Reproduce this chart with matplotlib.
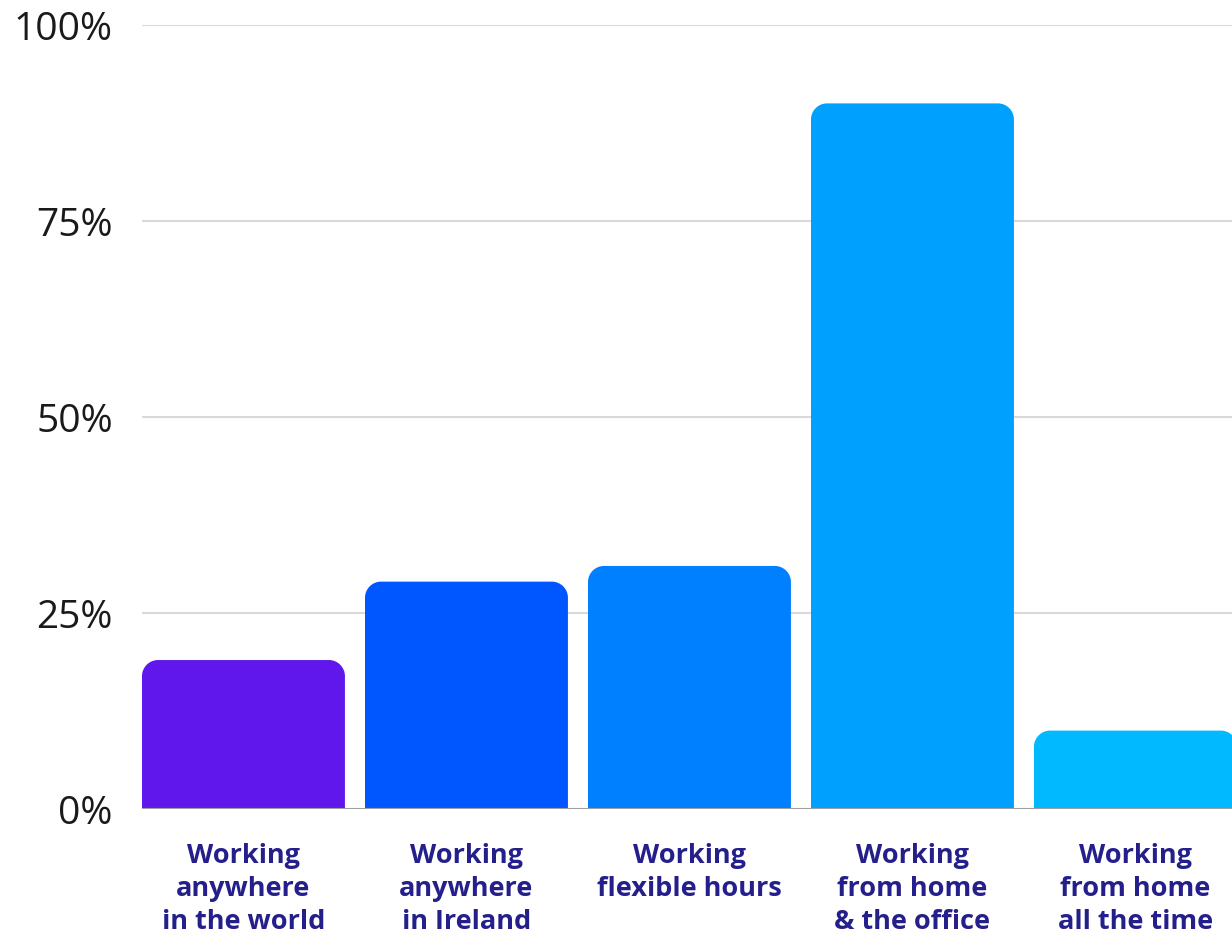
import matplotlib
matplotlib.use("Agg")
import matplotlib.pyplot as plt
from matplotlib.path import Path
from matplotlib.patches import PathPatch

categories = [
    "Working\nanywhere\nin the world",
    "Working\nanywhere\nin Ireland",
    "Working\nflexible hours",
    "Working\nfrom home\n& the office",
    "Working\nfrom home\nall the time",
]
values = [19, 29, 31, 90, 10]
colors = ["#5f17eb", "#0057ff", "#0080ff", "#00a0ff", "#00b9ff"]
yticks = [0, 25, 50, 75, 100]
ytick_labels = ["0%", "25%", "50%", "75%", "100%"]

W, H = 1232, 936
fig = plt.figure(figsize=(W / 100, H / 100), dpi=100)
ax_left, ax_bottom = 142 / W, 1 - 809 / H
ax_w, ax_h = 1 - ax_left, (809 - 25) / H
ax = fig.add_axes([ax_left, ax_bottom, ax_w, ax_h])

bar_w = 0.91
xmin, xmax = -bar_w / 2, -bar_w / 2 + (W - 142) / 223
ax.set_xlim(xmin, xmax)
ax.set_ylim(0, 100)

# corner radius in pixels, converted to data units on each axis
r_px = 16
rx = r_px * (xmax - xmin) / (ax_w * W)
ry = r_px * 100 / (ax_h * H)


def rounded_top_bar(x0, x1, top, color):
    k = 0.55
    verts = [
        (x0, 0), (x0, top - ry),
        (x0, top - ry + k * ry), (x0 + rx - k * rx, top), (x0 + rx, top),
        (x1 - rx, top),
        (x1 - rx + k * rx, top), (x1, top - ry + k * ry), (x1, top - ry),
        (x1, 0), (x0, 0),
    ]
    codes = [Path.MOVETO, Path.LINETO,
             Path.CURVE4, Path.CURVE4, Path.CURVE4,
             Path.LINETO,
             Path.CURVE4, Path.CURVE4, Path.CURVE4,
             Path.LINETO, Path.CLOSEPOLY]
    return PathPatch(Path(verts, codes), facecolor=color, edgecolor="none", zorder=3)


for i, (v, c) in enumerate(zip(values, colors)):
    ax.add_patch(rounded_top_bar(i - bar_w / 2, i + bar_w / 2, v, c))

for t in yticks[1:]:
    ax.axhline(t, color="#d9d9d9", lw=1.5, zorder=1)
ax.axhline(0, color="#a0a0a0", lw=1.5, zorder=4)

for s in ax.spines.values():
    s.set_visible(False)

ax.set_yticks(yticks)
ax.set_yticklabels(ytick_labels, fontfamily="Open Sans", fontsize=28, color="#1a1a1a")
ax.tick_params(axis="y", length=0, pad=21)
ax.set_xticks([])

for i, lab in enumerate(categories):
    ax.text(i, -4.3, lab, ha="center", va="top", fontfamily="Open Sans",
            fontweight="bold", fontsize=19.5, color="#241f8a",
            linespacing=1.35, clip_on=False)

fig.savefig("out.png", dpi=100)
